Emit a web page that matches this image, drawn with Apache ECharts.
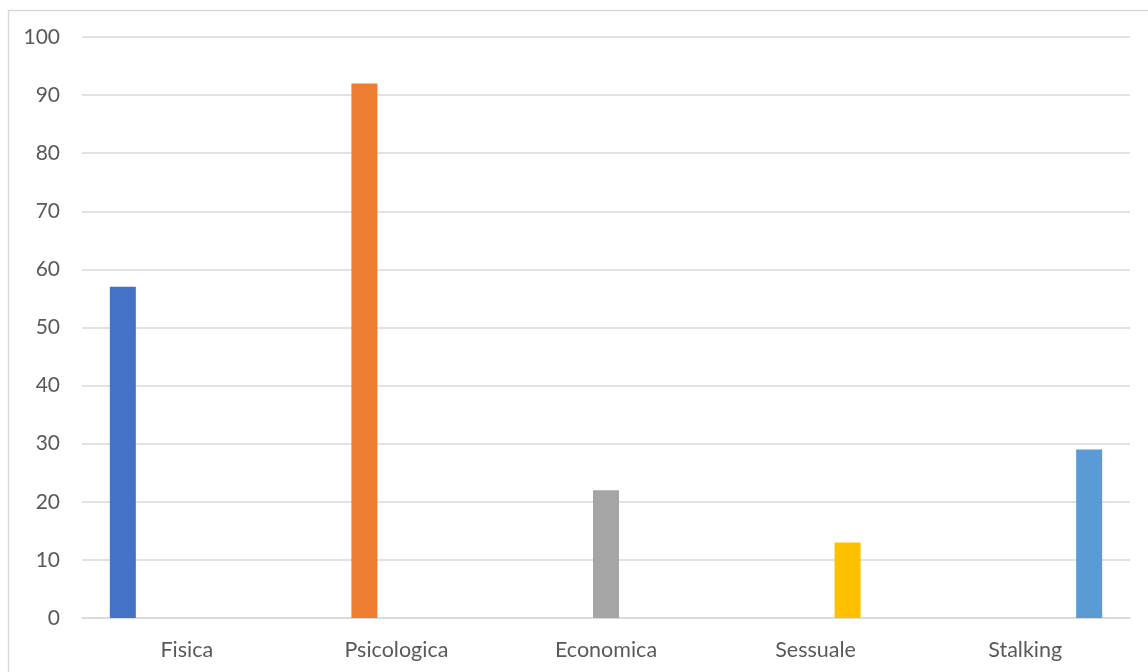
<!DOCTYPE html>
<html>
<head>
<meta charset="utf-8">
<script src="https://cdn.jsdelivr.net/npm/echarts@6/dist/echarts.min.js"></script>
<style>
  html, body { margin: 0; padding: 0; background: #fff; }
  #chart { width: 1148px; height: 672px; }
</style>
</head>
<body>
<div id="chart"></div>
<script>
// Categories of violence and number of cases per category
const categories = ['Fisica', 'Psicologica', 'Economica', 'Sessuale', 'Stalking'];
const values = [57, 92, 22, 13, 29];
const colors = ['#4472C4', '#ED7D31', '#A5A5A5', '#FFC000', '#5B9BD5'];
const yTicks = { min: 0, max: 100, interval: 10 };

const chart = echarts.init(document.getElementById('chart'), null, { renderer: 'canvas' });

// One series per category, each holding a value only in its own slot (clustered layout)
const series = categories.map((name, i) => ({
  name: name,
  type: 'bar',
  barWidth: 26,
  barGap: '23%',
  itemStyle: { color: colors[i] },
  data: categories.map((_, j) => (j === i ? values[i] : '-'))
}));

const textColor = '#595959';
const fontFamily = 'Lato, "Open Sans", sans-serif';

chart.setOption({
  animation: false,
  backgroundColor: '#ffffff',
  graphic: [{
    type: 'rect',
    left: 6, top: 8,
    shape: { width: 1160, height: 680 },
    style: { fill: 'none', stroke: '#d9d9d9', lineWidth: 1.5 },
    silent: true
  }],
  grid: { left: 82, right: 18, top: 37, bottom: 54, containLabel: false },
  xAxis: {
    type: 'category',
    data: categories,
    axisLine: { show: true, lineStyle: { color: '#d9d9d9', width: 1.5 } },
    axisTick: { show: false },
    axisLabel: { color: textColor, fontSize: 21.5, fontFamily: fontFamily, margin: 21 }
  },
  yAxis: {
    type: 'value',
    min: yTicks.min, max: yTicks.max, interval: yTicks.interval,
    axisLine: { show: false },
    axisTick: { show: false },
    axisLabel: { color: textColor, fontSize: 21, fontFamily: fontFamily, margin: 22 },
    splitLine: { lineStyle: { color: '#d9d9d9', width: 1.5 } }
  },
  series: series
});
</script>
</body>
</html>
